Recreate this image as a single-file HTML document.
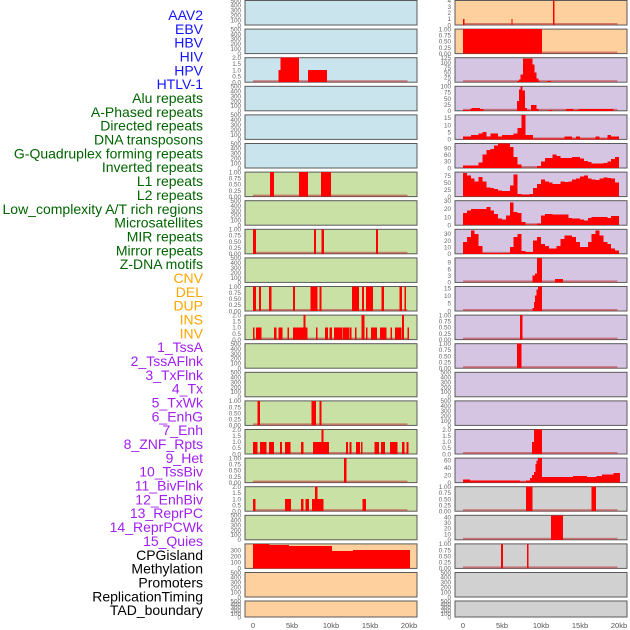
<!DOCTYPE html>
<html><head><meta charset="utf-8"><style>
html,body{margin:0;padding:0;background:#fff;width:630px;height:630px;overflow:hidden}
svg{display:block}
</style></head><body>
<svg id="chart" width="630" height="630" xmlns="http://www.w3.org/2000/svg" font-family="Liberation Sans, sans-serif"></svg>
<script>
// ---- labels ----
const trackLabels = ["AAV2","EBV","HBV","HIV","HPV","HTLV-1","Alu repeats","A-Phased repeats","Directed repeats","DNA transposons","G-Quadruplex forming repeats","Inverted repeats","L1 repeats","L2 repeats","Low_complexity A/T rich regions","Microsatellites","MIR repeats","Mirror repeats","Z-DNA motifs","CNV","DEL","DUP","INS","INV","1_TssA","2_TssAFlnk","3_TxFlnk","4_Tx","5_TxWk","6_EnhG","7_Enh","8_ZNF_Rpts","9_Het","10_TssBiv","11_BivFlnk","12_EnhBiv","13_ReprPC","14_ReprPCWk","15_Quies","CPGisland","Methylation","Promoters","ReplicationTiming","TAD_boundary"];
const labelGroups = [0,0,0,0,0,0,1,1,1,1,1,1,1,1,1,1,1,1,1,2,2,2,2,2,3,3,3,3,3,3,3,3,3,3,3,3,3,3,3,4,4,4,4,4];
const xTickLabels = ["0","5kb","10kb","15kb","20kb"];
const xTickValues = [0,5,10,15,20];

// ---- left column data (segments: [startKb, endKb, value]) ----
const L2_segs = [[3.3,5.9,1],[3.5,5.9,2],[7.05,9.5,1]];
const L6_segs = [[2.2,2.7,1],[5.9,7.05,1],[8.7,10.0,1]];
const L8_segs = [[0,0.4,1],[7.8,8.1,1],[8.8,9.1,1],[15.8,16.0,1]];
const L10_segs = [[0,0.4,1],[0.8,1.0,1],[2.05,2.4,1],[5.1,5.4,1],[7.4,8.3,1],[8.5,8.8,1],[12.7,13.6,1],[14.0,14.2,1],[14.5,15.4,1],[16.5,16.8,1],[18.8,19.1,1],[19.4,19.6,1]];
const L11_segs = [[0,0.2,1],[0.4,1.1,1],[2.7,3.0,1],[3.3,3.8,1],[4.4,4.6,1],[5.1,7.0,1],[6.5,6.75,2],[8.1,8.3,1],[9.2,9.6,1],[9.8,10.1,1],[10.4,11.4,1],[11.5,12.3,1],[12.4,12.65,1],[13.1,13.3,1],[13.9,14.3,2],[14.5,14.7,1],[15.1,15.9,1],[16.3,17.1,1],[17.65,17.85,1],[18.2,19.05,1],[19.1,19.35,2],[19.8,20.0,1]];
const L14_segs = [[0.6,0.9,1],[7.5,8.1,1],[8.5,8.8,1]];
const L15_segs = [[0,0.6,1],[0.9,1.7,1],[2.05,2.7,1],[3.45,3.7,1],[4.1,4.8,1],[6.15,6.45,1],[7.7,8.8,1],[8.8,9.05,2],[9.05,9.75,1],[11.9,12.2,1],[12.4,12.65,1],[13.2,13.7,1],[13.85,14.05,1],[15.6,16.15,1],[16.4,16.9,1],[17.55,18.55,1],[19.1,19.4,1],[19.65,19.95,1]];
const L16_segs = [[11.65,12.0,1]];
const L17_segs = [[0,0.3,1],[4.1,4.9,1],[6.15,6.5,1],[6.75,7.15,1],[7.55,8.8,1],[7.95,8.3,2],[8.8,9.05,1],[14.05,14.5,1]];
const L19_segs = [[0,2.1,400],[2.1,4.6,388],[4.6,10.1,371],[10.1,12.8,286],[12.8,20.1,303]];

// ---- right column data ----
const R0_segs = [[0,0.2,1],[6.2,6.35,1],[11.55,11.7,4]];
const R1_segs = [[0,10.1,1]];
const R2_segs = [[6.9,7.15,5],[7.15,7.4,15],[7.4,7.7,40],[7.7,8.9,122],[8.9,9.15,90],[9.15,9.4,50],[9.4,9.65,20],[9.65,9.9,5],[10.8,11.3,5]];
const R3_segs = [[0,0.8,4],[0.9,1.1,7],[1.1,2.2,11],[2.2,2.6,7],[6.9,7.15,40],[7.15,7.35,87],[7.35,7.65,100],[7.65,7.95,83],[7.95,8.2,12],[8.2,8.5,4],[8.7,9.4,24],[9.4,9.65,7],[11.0,11.4,4],[13.2,14.15,7],[14.35,14.8,4],[14.8,19.3,7]];
const R4_bins = [2,2,3,3,4,5,2,4,4,2,3,3,3,4,8,17,3,3,0.5,0.5,0.5,0.5,0.5,0.5,0.5,0.5,2,2,0.5,2,0.5,0.5,0.5,0.5,2,0.5,0.5,3,2,2];
const R5_bins = [12,12,12,12,25,60,80,85,100,110,110,110,95,50,15,0,0,0,0,8,30,45,45,60,55,45,45,45,50,50,42,32,28,20,20,20,22,30,40,50];
const R6_bins = [85,75,65,55,70,55,32,30,28,22,20,20,40,80,10,8,8,10,30,45,62,55,50,45,45,55,52,55,62,65,72,75,65,62,60,65,68,66,65,50];
const R7_bins = [15,18,20,20,20,20,22,18,14,8,7,12,28,16,15,4,1,1,1,2,12,14,14,13,13,13,13,9,8,8,7,6,9,10,10,10,10,9,11,11];
const R8_bins = [18,25,35,30,12,1,1,1,1,1,1,1,10,25,30,4,3,3,20,25,15,12,8,8,12,22,28,28,25,18,10,10,18,30,35,28,18,15,8,5];
const R9_segs = [[8.9,9.2,3],[9.2,9.5,4],[9.5,10.1,11],[11.8,12.8,1.5]];
const R10_segs = [[8.9,9.1,2],[9.1,9.25,6],[9.25,9.4,10],[9.4,9.6,14],[9.6,10.1,16]];
const R11_segs = [[7.3,7.65,1]];
const R12_segs = [[6.9,7.5,1]];
const R15_segs = [[8.85,9.1,1],[9.1,10.1,2]];
const R16_segs = [[0,0.9,8],[0.9,7.3,6],[7.3,8.1,3],[8.1,8.6,6],[8.6,8.85,12],[8.85,9.1,20],[9.1,9.3,28],[9.3,9.4,50],[9.4,9.6,58],[9.6,10.1,65],[10.1,14.1,15],[14.1,15.9,18],[15.9,17.1,15],[17.1,17.8,18],[17.8,19.3,22],[19.3,20.1,25]];
const R17_segs = [[8.1,8.9,1],[16.5,17.05,1]];
const R18_segs = [[11.3,12.8,43]];
const R19_segs = [[4.85,5.1,1],[8.2,8.4,1]];

// ---- tick label sets ----
const T_empty = [0,100,200,300,400,500];
const T_bin = [0,0.25,0.5,0.75,1.0];
const T_two = [0,0.5,1.0,1.5,2.0];

const NS = "http://www.w3.org/2000/svg";
const svg = document.getElementById("chart");
function mk(tag, attrs){const e=document.createElementNS(NS,tag);for(const k in attrs)e.setAttribute(k,attrs[k]);svg.appendChild(e);return e;}

const COL = {blue:"#c9e4ec",green:"#c9e1a5",orange:"#fed09d",purple:"#d6c5e2",grey:"#d1d1d1"};
const sides = {L:{x0:245,x1:417,z:253},R:{x0:455,x1:627,z:463}};
const KBPX = 7.8;

function binsToSegs(b){return b.map((v,i)=>[i*0.5,i*0.5+0.5,v]);}

const panels = [
 ["L",COL.blue,500,T_empty,null,0],["L",COL.blue,500,T_empty,null,1],["L",COL.blue,2,T_two,L2_segs,2],
 ["L",COL.blue,500,T_empty,null,3],["L",COL.blue,500,T_empty,null,4],["L",COL.blue,500,T_empty,null,5],
 ["L",COL.green,1,T_bin,L6_segs,6],["L",COL.green,500,T_empty,null,7],["L",COL.green,1,T_bin,L8_segs,8],
 ["L",COL.green,500,T_empty,null,9],["L",COL.green,1,T_bin,L10_segs,10],["L",COL.green,2,T_two,L11_segs,11],
 ["L",COL.green,500,T_empty,null,12],["L",COL.green,500,T_empty,null,13],["L",COL.green,1,T_bin,L14_segs,14],
 ["L",COL.green,2,T_two,L15_segs,15],["L",COL.green,1,T_bin,L16_segs,16],["L",COL.green,2,T_two,L17_segs,17],
 ["L",COL.green,500,T_empty,null,18],["L",COL.orange,405,[0,100,200,300],L19_segs,19],["L",COL.orange,500,T_empty,null,20],["L",COL.orange,500,T_empty,null,21],
 ["R",COL.orange,4,[0,1,2,3,4],R0_segs,0],["R",COL.orange,1,T_bin,R1_segs,1],["R",COL.purple,125,[0,25,50,75,100,125],R2_segs,2],
 ["R",COL.purple,100,[0,25,50,75,100],R3_segs,3],["R",COL.purple,17,[0,5,10,15],binsToSegs(R4_bins),4],
 ["R",COL.purple,110,[0,30,60,90],binsToSegs(R5_bins),5],["R",COL.purple,88,[0,25,50,75],binsToSegs(R6_bins),6],
 ["R",COL.purple,30,[0,10,20,30],binsToSegs(R7_bins),7],["R",COL.purple,37,[0,10,20,30],binsToSegs(R8_bins),8],
 ["R",COL.purple,11,[0,3,6,9],R9_segs,9],["R",COL.purple,16,[0,5,10,15],R10_segs,10],["R",COL.purple,1,T_bin,R11_segs,11],
 ["R",COL.purple,1,T_bin,R12_segs,12],["R",COL.purple,500,T_empty,null,13],["R",COL.purple,500,T_empty,null,14],
 ["R",COL.purple,2,T_two,R15_segs,15],["R",COL.purple,65,[0,20,40,60],R16_segs,16],["R",COL.grey,1,T_bin,R17_segs,17],
 ["R",COL.grey,43,[0,10,20,30,40],R18_segs,18],["R",COL.grey,1,T_bin,R19_segs,19],["R",COL.grey,500,T_empty,null,20],["R",COL.grey,500,T_empty,null,21]
];

panels.forEach(p=>{
  const [side,bg,ymax,ticks,segs,i]=p;
  const s=sides[side];
  const top = i===21 ? 601 : 0.5+28.6*i;
  const h = i===21 ? 16 : 24.5;
  const bot = top+h;
  const ys = v => bot - (v/ymax)*h;
  const xs = kb => s.z + kb*KBPX;
  const r = mk("rect",{x:s.x0,y:top,width:s.x1-s.x0,height:h,fill:bg,stroke:"#5a5a5a","stroke-width":1});
  
  
  const twoDec = ticks.some(t=>t===0.25);
  const oneDec = ticks.some(t=>t===0.5);
  ticks.forEach(t=>{
    let lab = twoDec ? t.toFixed(2) : (oneDec ? t.toFixed(1) : String(t));
    const tx = mk("text",{x:s.x0-4,y:ys(t)+2.3,"font-size":6.3,fill:"#666","text-anchor":"end"});
    tx.textContent = lab;
    
    
  });
  if(segs){
    const bl = mk("rect",{x:xs(0),y:bot-2,width:xs(19.8)-xs(0),height:2,fill:"rgba(190,60,60,0.6)"});
    
    
    segs.forEach(sg=>{
      if(sg[2]<=0) return;
      const v = Math.min(sg[2],ymax);
      const b = mk("rect",{x:xs(sg[0]),y:ys(v),width:Math.max(1,xs(sg[1])-xs(sg[0])),height:bot-ys(v),fill:"#ff0000","shape-rendering":"crispEdges"});
      
      
    });
  }
});

// x axis ticks
["L","R"].forEach(side=>{
  const s=sides[side];
  xTickValues.forEach((v,k)=>{
    const t = mk("text",{x:s.z+v*KBPX,y:628,"font-size":7.5,fill:"#555","text-anchor":"middle"});
    t.textContent = xTickLabels[k];
    
    
  });
});

// row labels
const groupColors = ["#1414ff","#006400","#ffa500","#a020f0","#000000"];
trackLabels.forEach((lab,k)=>{
  const t = mk("text",{x:203,y:20+k*13.84,"font-size":14,fill:groupColors[labelGroups[k]],"text-anchor":"end"});
  t.textContent = lab;
  
  
});
</script>
</body></html>
